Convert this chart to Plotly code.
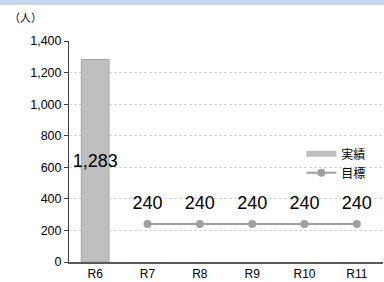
import plotly.graph_objects as go

categories = ["R6", "R7", "R8", "R9", "R10", "R11"]
actual = [1283, None, None, None, None, None]
actual_labels = ["1,283", "", "", "", "", ""]
target_x = ["R7", "R8", "R9", "R10", "R11"]
target = [240, 240, 240, 240, 240]
y_ticks = [0, 200, 400, 600, 800, 1000, 1200, 1400]

W, H = 384, 282
ml, mr, mt, mb = 69, 1, 41, 20
ph = H - mt - mb
pw = W - ml - mr

font_family = "Liberation Sans, Arial, Noto Sans CJK JP, sans-serif"

fig = go.Figure()
fig.add_trace(go.Bar(
    x=categories, y=actual, width=0.53,
    marker=dict(color="#bfbfbf", line=dict(color="#a6a6a6", width=1)),
    text=actual_labels, textangle=0, constraintext="none",
    textposition="inside", insidetextanchor="middle",
    textfont=dict(size=18, color="#000000"),
    showlegend=False, cliponaxis=False, hoverinfo="skip",
))
fig.add_trace(go.Scatter(
    x=[None], y=[None], mode="lines", name="実績",
    line=dict(color="#bfbfbf", width=6),
))
fig.add_trace(go.Scatter(
    x=target_x, y=target, mode="lines+markers", name="目標",
    line=dict(color="#a0a0a0", width=2),
    marker=dict(color="#a0a0a0", size=8),
    cliponaxis=False,
))
fig.add_trace(go.Scatter(
    x=target_x, y=target, mode="markers+text", showlegend=False,
    marker=dict(color="rgba(0,0,0,0)", size=16),
    text=[f"{v}" for v in target], textposition="top center",
    textfont=dict(size=18, color="#000000"),
    cliponaxis=False, hoverinfo="skip",
))

fig.update_layout(
    width=W, height=H,
    margin=dict(l=ml, r=mr, t=mt, b=mb),
    paper_bgcolor="white", plot_bgcolor="white",
    font=dict(family=font_family, size=12, color="#000000"),
    legend=dict(x=0.74, y=0.555, xanchor="left", yanchor="top",
                bgcolor="rgba(0,0,0,0)", font=dict(size=12),
                itemwidth=30, tracegroupgap=0),
    xaxis=dict(type="category", categoryorder="array", categoryarray=categories,
               range=[-0.5, 5.5], showline=True, linecolor="#595959", linewidth=2,
               ticks="", showgrid=False, tickfont=dict(size=12)),
    yaxis=dict(range=[0, 1400], tickvals=y_ticks, tickformat=",",
               showline=True, linecolor="#404040", linewidth=1,
               ticks="outside", ticklen=4, tickcolor="#404040",
               showgrid=True, gridcolor="#d4d4d4", griddash="3px,2px", gridwidth=1,
               zeroline=False, tickfont=dict(size=12.5)),
    shapes=[dict(type="rect", xref="paper", yref="paper",
                 x0=-ml / pw, x1=(W - ml) / pw,
                 y0=(H - mb - 5) / ph, y1=(H - mb) / ph,
                 fillcolor="#c6d9f0", line=dict(width=0), layer="above")],
    annotations=[dict(text="（人）", xref="paper", yref="paper",
                      x=-62 / pw, y=(H - mb - 17) / ph, xanchor="left", yanchor="middle",
                      showarrow=False, font=dict(size=11, family="Noto Sans CJK JP"))],
)

fig.write_html(
    "out.html",
    config={"displayModeBar": False},
    post_script="document.body.style.margin='0';document.body.style.overflow='hidden';",
)
